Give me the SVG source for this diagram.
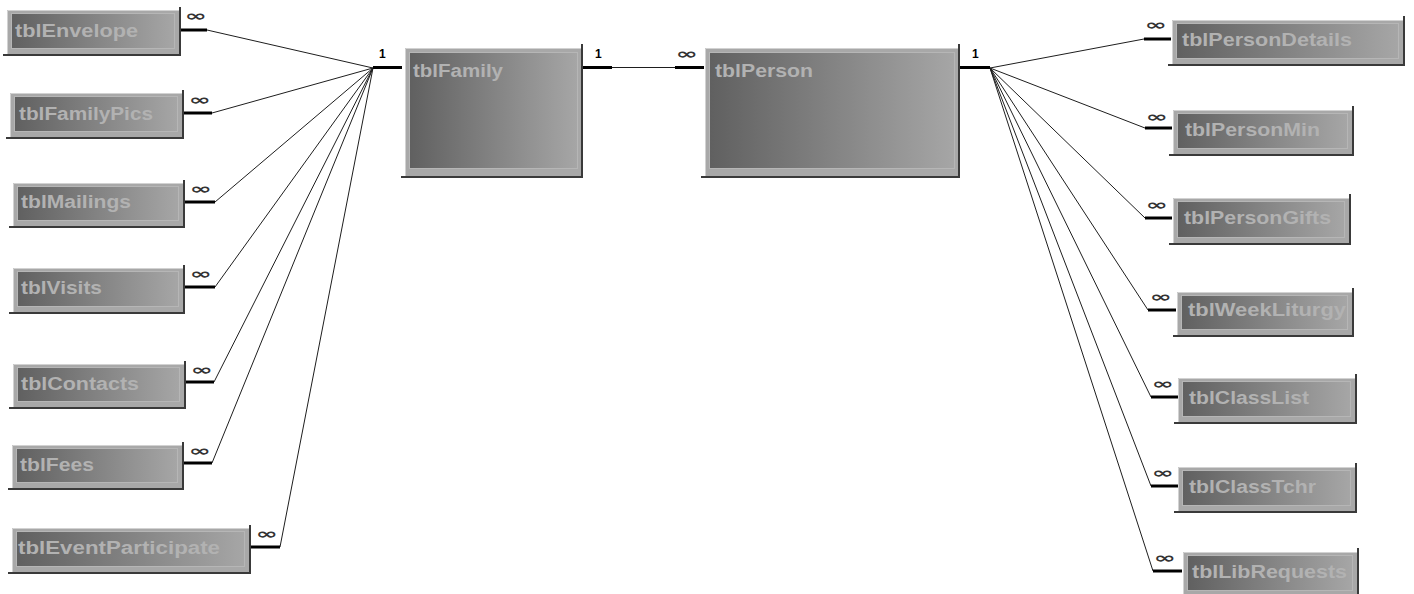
<svg xmlns="http://www.w3.org/2000/svg" width="1414" height="594" viewBox="0 0 1414 594">
<defs>
<linearGradient id="g" x1="0" y1="0" x2="1" y2="0">
<stop offset="0" stop-color="#606060"/>
<stop offset="1" stop-color="#a6a6a6"/>
</linearGradient>
</defs>
<style>
.frame{fill:#a8a8a8}
.hl{fill:none;stroke:#d2d2d2;stroke-width:1}
.inner{fill:url(#g);stroke:#b6b6b6;stroke-width:1}
.sh{stroke:#3a3a3a;stroke-width:2}
.t{font-family:"Liberation Sans",Arial,sans-serif;font-weight:bold;font-size:18px;fill:#b2b2b2}
.stub{stroke:#000;stroke-width:3}
.ln{stroke:#1e1e1e;stroke-width:1;fill:none}
.one{font-family:"Liberation Sans",Arial,sans-serif;font-weight:bold;font-size:12px;fill:#000}
.inf{font-family:"DejaVu Sans",sans-serif;font-weight:bold;font-size:15px;fill:#333}
</style>
<rect width="1414" height="594" fill="#fff"/>

<g id="connectors">
<line class="ln" x1="207" y1="30" x2="373" y2="68"/>
<line class="ln" x1="212" y1="113" x2="373" y2="68"/>
<line class="ln" x1="215" y1="202" x2="373" y2="68"/>
<line class="ln" x1="215" y1="287" x2="373" y2="68"/>
<line class="ln" x1="214" y1="382" x2="373" y2="68"/>
<line class="ln" x1="212" y1="463" x2="373" y2="68"/>
<line class="ln" x1="280" y1="547" x2="373" y2="68"/>
<line class="ln" x1="990" y1="68" x2="1144" y2="39"/>
<line class="ln" x1="990" y1="68" x2="1145" y2="128"/>
<line class="ln" x1="990" y1="68" x2="1145" y2="218"/>
<line class="ln" x1="990" y1="68" x2="1148" y2="310"/>
<line class="ln" x1="990" y1="68" x2="1151" y2="397"/>
<line class="ln" x1="990" y1="68" x2="1151" y2="486"/>
<line class="ln" x1="990" y1="68" x2="1153" y2="571"/>
<line class="ln" x1="612" y1="67.5" x2="675" y2="67.5"/>
<line class="stub" x1="180" y1="30" x2="207" y2="30"/>
<line class="stub" x1="183" y1="113" x2="212" y2="113"/>
<line class="stub" x1="184" y1="202" x2="215" y2="202"/>
<line class="stub" x1="184" y1="287" x2="215" y2="287"/>
<line class="stub" x1="185" y1="382" x2="214" y2="382"/>
<line class="stub" x1="183" y1="463" x2="212" y2="463"/>
<line class="stub" x1="250" y1="547" x2="280" y2="547"/>
<line class="stub" x1="373" y1="67.5" x2="402" y2="67.5"/>
<line class="stub" x1="583" y1="67.5" x2="612" y2="67.5"/>
<line class="stub" x1="675" y1="67.5" x2="704" y2="67.5"/>
<line class="stub" x1="960" y1="67.5" x2="990" y2="67.5"/>
<line class="stub" x1="1144" y1="39" x2="1171" y2="39"/>
<line class="stub" x1="1145" y1="128" x2="1172" y2="128"/>
<line class="stub" x1="1145" y1="218" x2="1172" y2="218"/>
<line class="stub" x1="1148" y1="310" x2="1176" y2="310"/>
<line class="stub" x1="1151" y1="397" x2="1178" y2="397"/>
<line class="stub" x1="1151" y1="486" x2="1178" y2="486"/>
<line class="stub" x1="1153" y1="571" x2="1182" y2="571"/>
<text class="one" x="379" y="58">1</text>
<text class="one" x="595" y="58">1</text>
<text class="one" x="972" y="58">1</text>
<text class="inf" x="185" y="21" textLength="22" lengthAdjust="spacingAndGlyphs">∞</text>
<text class="inf" x="189" y="105" textLength="22" lengthAdjust="spacingAndGlyphs">∞</text>
<text class="inf" x="190" y="194" textLength="22" lengthAdjust="spacingAndGlyphs">∞</text>
<text class="inf" x="190" y="279" textLength="22" lengthAdjust="spacingAndGlyphs">∞</text>
<text class="inf" x="191" y="375" textLength="22" lengthAdjust="spacingAndGlyphs">∞</text>
<text class="inf" x="189" y="456" textLength="22" lengthAdjust="spacingAndGlyphs">∞</text>
<text class="inf" x="256" y="539" textLength="22" lengthAdjust="spacingAndGlyphs">∞</text>
<text class="inf" x="676" y="59" textLength="22" lengthAdjust="spacingAndGlyphs">∞</text>
<text class="inf" x="1145" y="30" textLength="22" lengthAdjust="spacingAndGlyphs">∞</text>
<text class="inf" x="1146" y="122" textLength="22" lengthAdjust="spacingAndGlyphs">∞</text>
<text class="inf" x="1146" y="210" textLength="22" lengthAdjust="spacingAndGlyphs">∞</text>
<text class="inf" x="1150" y="302" textLength="22" lengthAdjust="spacingAndGlyphs">∞</text>
<text class="inf" x="1152" y="389" textLength="22" lengthAdjust="spacingAndGlyphs">∞</text>
<text class="inf" x="1152" y="478" textLength="22" lengthAdjust="spacingAndGlyphs">∞</text>
<text class="inf" x="1154" y="563" textLength="22" lengthAdjust="spacingAndGlyphs">∞</text>
</g>

<g id="tblEnvelope">
<rect class="frame" x="7" y="10" width="173" height="45"/>
<path class="hl" d="M7.5 55 V10.5 H180"/>
<rect class="inner" x="11.5" y="13.5" width="163" height="35"/>
<line class="sh" x1="180" y1="7" x2="180" y2="56"/>
<line class="sh" x1="3" y1="55" x2="181" y2="55"/>
<text class="t" x="15" y="37" textLength="123" lengthAdjust="spacingAndGlyphs">tblEnvelope</text>
</g>
<g id="tblFamilyPics">
<rect class="frame" x="10" y="93" width="173" height="45"/>
<path class="hl" d="M10.5 138 V93.5 H183"/>
<rect class="inner" x="14.5" y="96.5" width="163" height="35"/>
<line class="sh" x1="183" y1="90" x2="183" y2="139"/>
<line class="sh" x1="6" y1="138" x2="184" y2="138"/>
<text class="t" x="19" y="120" textLength="134" lengthAdjust="spacingAndGlyphs">tblFamilyPics</text>
</g>
<g id="tblMailings">
<rect class="frame" x="13" y="183" width="171" height="44"/>
<path class="hl" d="M13.5 227 V183.5 H184"/>
<rect class="inner" x="17.5" y="186.5" width="161" height="34"/>
<line class="sh" x1="184" y1="180" x2="184" y2="228"/>
<line class="sh" x1="9" y1="227" x2="185" y2="227"/>
<text class="t" x="21" y="208" textLength="110" lengthAdjust="spacingAndGlyphs">tblMailings</text>
</g>
<g id="tblVisits">
<rect class="frame" x="13" y="268" width="171" height="45"/>
<path class="hl" d="M13.5 313 V268.5 H184"/>
<rect class="inner" x="17.5" y="271.5" width="161" height="35"/>
<line class="sh" x1="184" y1="265" x2="184" y2="314"/>
<line class="sh" x1="9" y1="313" x2="185" y2="313"/>
<text class="t" x="21" y="294" textLength="81" lengthAdjust="spacingAndGlyphs">tblVisits</text>
</g>
<g id="tblContacts">
<rect class="frame" x="13" y="364" width="172" height="44"/>
<path class="hl" d="M13.5 408 V364.5 H185"/>
<rect class="inner" x="17.5" y="367.5" width="162" height="34"/>
<line class="sh" x1="185" y1="361" x2="185" y2="409"/>
<line class="sh" x1="9" y1="408" x2="186" y2="408"/>
<text class="t" x="21" y="390" textLength="118" lengthAdjust="spacingAndGlyphs">tblContacts</text>
</g>
<g id="tblFees">
<rect class="frame" x="12" y="445" width="171" height="44"/>
<path class="hl" d="M12.5 489 V445.5 H183"/>
<rect class="inner" x="16.5" y="448.5" width="161" height="34"/>
<line class="sh" x1="183" y1="442" x2="183" y2="490"/>
<line class="sh" x1="8" y1="489" x2="184" y2="489"/>
<text class="t" x="20" y="471" textLength="74" lengthAdjust="spacingAndGlyphs">tblFees</text>
</g>
<g id="tblEventParticipate">
<rect class="frame" x="12" y="528" width="238" height="45"/>
<path class="hl" d="M12.5 573 V528.5 H250"/>
<rect class="inner" x="16.5" y="531.5" width="228" height="35"/>
<line class="sh" x1="250" y1="525" x2="250" y2="574"/>
<line class="sh" x1="8" y1="573" x2="251" y2="573"/>
<text class="t" x="18" y="554" textLength="202" lengthAdjust="spacingAndGlyphs">tblEventParticipate</text>
</g>

<g id="tblFamily">
<rect class="frame" x="405" y="48" width="177" height="129"/>
<path class="hl" d="M405.5 177 V48.5 H582"/>
<rect class="inner" x="409.5" y="52.5" width="168" height="116"/>
<line class="sh" x1="582" y1="44" x2="582" y2="178"/>
<line class="sh" x1="401" y1="177" x2="583" y2="177"/>
<text class="t" x="413" y="77" textLength="90" lengthAdjust="spacingAndGlyphs">tblFamily</text>
</g>
<g id="tblPerson">
<rect class="frame" x="705" y="48" width="254" height="129"/>
<path class="hl" d="M705.5 177 V48.5 H959"/>
<rect class="inner" x="709.5" y="52.5" width="245" height="116"/>
<line class="sh" x1="959" y1="44" x2="959" y2="178"/>
<line class="sh" x1="701" y1="177" x2="960" y2="177"/>
<text class="t" x="715" y="77" textLength="98" lengthAdjust="spacingAndGlyphs">tblPerson</text>
</g>

<g id="tblPersonDetails">
<rect class="frame" x="1172" y="20" width="232" height="45"/>
<path class="hl" d="M1172.5 65 V20.5 H1404"/>
<rect class="inner" x="1176.5" y="23.5" width="222" height="35"/>
<line class="sh" x1="1404" y1="16" x2="1404" y2="66"/>
<line class="sh" x1="1168" y1="65" x2="1405" y2="65"/>
<text class="t" x="1182" y="46" textLength="170" lengthAdjust="spacingAndGlyphs">tblPersonDetails</text>
</g>
<g id="tblPersonMin">
<rect class="frame" x="1173" y="110" width="180" height="45"/>
<path class="hl" d="M1173.5 155 V110.5 H1353"/>
<rect class="inner" x="1177.5" y="113.5" width="170" height="35"/>
<line class="sh" x1="1353" y1="106" x2="1353" y2="156"/>
<line class="sh" x1="1169" y1="155" x2="1354" y2="155"/>
<text class="t" x="1185" y="136" textLength="135" lengthAdjust="spacingAndGlyphs">tblPersonMin</text>
</g>
<g id="tblPersonGifts">
<rect class="frame" x="1173" y="198" width="177" height="46"/>
<path class="hl" d="M1173.5 244 V198.5 H1350"/>
<rect class="inner" x="1177.5" y="201.5" width="167" height="36"/>
<line class="sh" x1="1350" y1="194" x2="1350" y2="245"/>
<line class="sh" x1="1169" y1="244" x2="1351" y2="244"/>
<text class="t" x="1184" y="224" textLength="147" lengthAdjust="spacingAndGlyphs">tblPersonGifts</text>
</g>
<g id="tblWeekLiturgy">
<rect class="frame" x="1177" y="292" width="176" height="44"/>
<path class="hl" d="M1177.5 336 V292.5 H1353"/>
<rect class="inner" x="1181.5" y="295.5" width="166" height="34"/>
<line class="sh" x1="1353" y1="288" x2="1353" y2="337"/>
<line class="sh" x1="1173" y1="336" x2="1354" y2="336"/>
<text class="t" x="1188" y="316" textLength="158" lengthAdjust="spacingAndGlyphs">tblWeekLiturgy</text>
</g>
<g id="tblClassList">
<rect class="frame" x="1178" y="378" width="178" height="45"/>
<path class="hl" d="M1178.5 423 V378.5 H1356"/>
<rect class="inner" x="1182.5" y="381.5" width="168" height="35"/>
<line class="sh" x1="1356" y1="374" x2="1356" y2="424"/>
<line class="sh" x1="1174" y1="423" x2="1357" y2="423"/>
<text class="t" x="1189" y="404" textLength="120" lengthAdjust="spacingAndGlyphs">tblClassList</text>
</g>
<g id="tblClassTchr">
<rect class="frame" x="1178" y="467" width="178" height="45"/>
<path class="hl" d="M1178.5 512 V467.5 H1356"/>
<rect class="inner" x="1182.5" y="470.5" width="168" height="35"/>
<line class="sh" x1="1356" y1="463" x2="1356" y2="513"/>
<line class="sh" x1="1174" y1="512" x2="1357" y2="512"/>
<text class="t" x="1189" y="493" textLength="127" lengthAdjust="spacingAndGlyphs">tblClassTchr</text>
</g>
<g id="tblLibRequests">
<rect class="frame" x="1183" y="552" width="175" height="45"/>
<path class="hl" d="M1183.5 597 V552.5 H1358"/>
<rect class="inner" x="1187.5" y="555.5" width="165" height="35"/>
<line class="sh" x1="1358" y1="548" x2="1358" y2="598"/>
<text class="t" x="1192" y="578" textLength="155" lengthAdjust="spacingAndGlyphs">tblLibRequests</text>
</g>
</svg>
